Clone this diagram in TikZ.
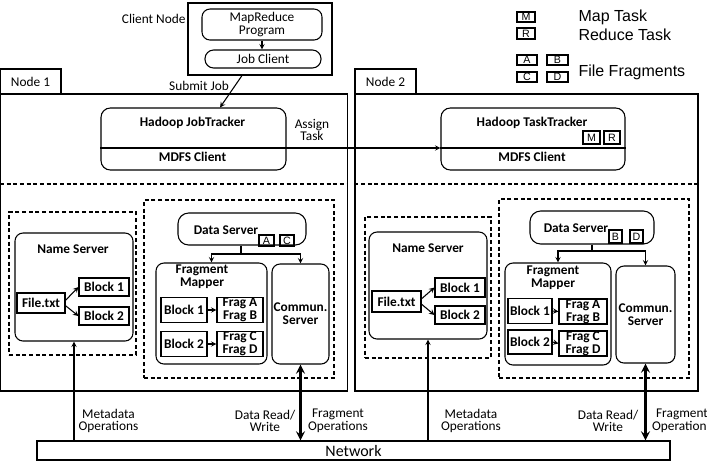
\documentclass[tikz,border=0pt]{standalone}
\usepackage{fontspec}
\setmainfont{Carlito}
\newfontfamily\legendfont{Liberation Sans}

\tikzset{
	every node/.append style={font=\fontsize{10}{9.5}\selectfont},
	box/.style={draw, line width=0.8pt, inner sep=0pt, align=center},
	rbox/.style={box, rounded corners=6pt},
	dbox/.style={draw, line width=0.8pt, dash pattern=on 3pt off 2pt},
	bld/.style={font=\fontsize{10}{9.5}\selectfont\bfseries},
	lbl/.style={inner sep=0pt, align=center},
	tag/.style={box, font=\legendfont\fontsize{8}{8}\selectfont},
	wh/.style 2 args={minimum width=#1*0.75pt, minimum height=#2*0.75pt}
}

\begin{document}
\begin{tikzpicture}[x=0.75pt, y=-0.75pt, >=stealth, line width=0.8pt]
	\useasboundingbox (0,0) rectangle (707,462);
	% client node
	\node[box, wh={144}{72}] (client) at (260,39) {};
	\node[rbox, wh={120}{31}] (mrp) at (262,24.5) {MapReduce\\Program};
	\node[rbox, rounded corners=6.5pt, wh={116}{18}] (jc) at (263,59) {Job Client};
	\node[lbl, anchor=east] (clientlbl) at (186,19) {Client Node};
	\draw[->] (mrp.south) -- (mrp.south |- jc.north);
	% legend
	\node[tag, wh={18}{10}] (lm) at (526,17) {M};
	\node[tag, wh={18}{11}] (lr) at (526,33.5) {R};
	\node[tag, wh={20}{10}] (la) at (527,60) {A};
	\node[tag, wh={21}{10}] (lb) at (557.5,60) {B};
	\node[tag, wh={20}{10}] (lc) at (527,77) {C};
	\node[tag, wh={21}{10}] (ld) at (557.5,77) {D};
	\node[lbl, anchor=west, font=\legendfont\fontsize{12}{12}\selectfont] (lmtxt) at (578,17) {Map Task};
	\node[lbl, anchor=west, font=\legendfont\fontsize{12}{12}\selectfont] (lrtxt) at (578,35) {Reduce Task};
	\node[lbl, anchor=west, font=\legendfont\fontsize{12}{12}\selectfont] (lftxt) at (578,72) {File Fragments};

	% Node 1
	\node[box, wh={61}{25}] (tab1) at (30.5,81.5) {Node 1};
	\node[box, wh={347}{297}] (n1) at (174,242.5) {};
	\node[rbox, rounded corners=7pt, wh={185}{62}] (jt) at (193.5,139) {};
	\node[lbl, bld] (jtname) at (192.5,123) {Hadoop JobTracker};
	\node[lbl, bld] (jtcl) at (192.5,157) {MDFS Client};
	\node[lbl] (assign) at (312,130) {Assign\\Task};
	\draw[->] ([xshift=-13.5pt]client.south) -- ([xshift=19.9pt]jt.north);
	\node[lbl] (submit) at (199,86) {Submit Job};
	\coordinate (split) at (0,148);
	\coordinate (dsh) at (0,184);
	\draw[dbox] (n1.west |- dsh) -- (n1.east |- dsh);
	% name server 1
	\node[dbox, wh={127}{143}] (nsd1) at (72.5,283.5) {};
	\node[rbox, wh={118}{108}] (ns1) at (74,287) {};
	\node[lbl, bld] (ns1lbl) at (73,249) {Name Server};
	\node[box, bld, wh={48}{20}] (file1) at (41,303) {File.txt};
	\node[box, bld, wh={50}{18}] (nb11) at (104,287) {Block 1};
	\node[box, bld, wh={50}{18}] (nb12) at (104,316) {Block 2};
	\draw[->] ([yshift=2pt]file1.east) -- (nb11.west);
	\draw[->] ([yshift=-2pt]file1.east) -- (nb12.west);
	% data server 1
	\node[dbox, wh={190}{178}] (dsd1) at (239,289) {};
	\node[rbox, rounded corners=8pt, wh={128}{32}] (ds1) at (242,229) {};
	\node[lbl, bld] (ds1lbl) at (226,230) {Data Server};
	\node[tag, wh={15}{11}] (fa1) at (266.5,240.5) {A};
	\node[tag, wh={14}{11}] (fc1) at (287,240.5) {C};
	\node[rbox, wh={111}{101}] (fm1) at (211.5,313.5) {};
	\node[lbl, bld] (fm1lbl) at (202,277) {Fragment\\Mapper};
	\node[box, bld, wh={46}{25}] (b11) at (184,310) {Block 1};
	\node[box, bld, wh={46}{25}] (fab1) at (240,310) {Frag A\\Frag B};
	\node[box, bld, wh={46}{25}] (b12) at (184,344) {Block 2};
	\node[box, bld, wh={46}{25}] (fcd1) at (240,344) {Frag C\\Frag D};
	\draw[->] (b11.east) -- (fab1.west);
	\draw[->] (b12.east) -- (fcd1.west);
	\node[rbox, bld, wh={57}{100}] (cs1) at (300.5,314) {Commun.\\Server};
	\coordinate (br1) at (241,254);
	\draw (ds1.south -| br1) -- (br1);
	\draw[->] (br1) -| (fm1.north);
	\draw[->] (br1) -| (cs1.north);

	% Node 2
	\node[box, wh={61}{25}] (tab2) at (385.5,81.5) {Node 2};
	\node[box, wh={343}{297}] (n2) at (526.5,242.5) {};
	\node[rbox, rounded corners=7pt, wh={184}{62}] (tt) at (533,139) {};
	\node[lbl, bld] (ttname) at (532,123) {Hadoop TaskTracker};
	\node[lbl, bld] (ttcl) at (532,157) {MDFS Client};
	\node[tag, wh={17}{13}] (tm) at (591.5,137.5) {M};
	\node[tag, wh={16}{13}] (tr) at (612,137.5) {R};
	\draw (jt.west |- split) -- (jt.east |- split);
	\draw[->] (jt.east |- split) -- (tt.west |- split);
	\draw (tt.west |- split) -- (tt.east |- split);
	\draw[dbox] (n2.west |- dsh) -- (n2.east |- dsh);
	% name server 2
	\node[dbox, wh={126}{141}] (nsd2) at (428,287.5) {};
	\node[rbox, wh={118}{107}] (ns2) at (428,285.5) {};
	\node[lbl, bld] (ns2lbl) at (428,248) {Name Server};
	\node[box, bld, wh={49}{21}] (file2) at (396.5,301.5) {File.txt};
	\node[box, bld, wh={50}{19}] (nb21) at (460,287.5) {Block 1};
	\node[box, bld, wh={50}{18}] (nb22) at (460,315) {Block 2};
	\draw[->] ([yshift=2pt]file2.east) -- (nb21.west);
	\draw[->] ([yshift=-2pt]file2.east) -- (nb22.west);
	% data server 2
	\node[dbox, wh={190}{179}] (dsd2) at (594,288.5) {};
	\node[rbox, rounded corners=8pt, wh={124}{33}] (ds2) at (592,227.5) {};
	\node[lbl, bld] (ds2lbl) at (576,228) {Data Server};
	\node[tag, wh={13}{13}] (fb2) at (615.5,236.5) {B};
	\node[tag, wh={13}{13}] (fd2) at (636.5,236.5) {D};
	\node[rbox, wh={106}{102}] (fm2) at (558,314) {};
	\node[lbl, bld] (fm2lbl) at (553,278) {Fragment\\Mapper};
	\node[box, bld, wh={44}{25}] (b21) at (530,311) {Block 1};
	\node[box, bld, wh={48}{25}] (fab2) at (583,311.5) {Frag A\\Frag B};
	\node[box, bld, wh={44}{24}] (b22) at (530,342) {Block 2};
	\node[box, bld, wh={48}{25}] (fcd2) at (583,343.5) {Frag C\\Frag D};
	\draw[->] (b21.east) -- (fab2.west);
	\draw[->] (b22.east) -- (fcd2.west);
	\node[rbox, bld, wh={59}{97}] (cs2) at (645.5,314.5) {Commun.\\Server};
	\coordinate (br2) at (592,251);
	\draw (ds2.south) -- (br2);
	\draw[->] (br2) -| (fm2.north);
	\draw[->] (br2) -| (cs2.north);

	% network
	\node[box, wh={633}{19}, font=\fontsize{12}{12}\selectfont] (net) at (353.5,450.5) {Network};
	\draw[->] (ns1.south |- net.north) -- (ns1.south);
	\draw[->] (ns2.south |- net.north) -- (ns2.south);
	\draw[<->, line width=2pt] (cs1.south) -- (cs1.south |- net.north);
	\draw[<->, line width=2pt] (cs2.south) -- (cs2.south |- net.north);
	\node[lbl] (meta1) at (108.5,421) {Metadata\\Operations};
	\node[lbl] (rw1) at (265,421) {Data Read/\\Write};
	\node[lbl] (fop1) at (338,421) {Fragment\\Operations};
	\node[lbl] (meta2) at (471,421) {Metadata\\Operations};
	\node[lbl] (rw2) at (608,421) {Data Read/\\Write};
	\node[lbl] (fop2) at (682,421) {Fragment\\Operations};
\end{tikzpicture}
\end{document}
